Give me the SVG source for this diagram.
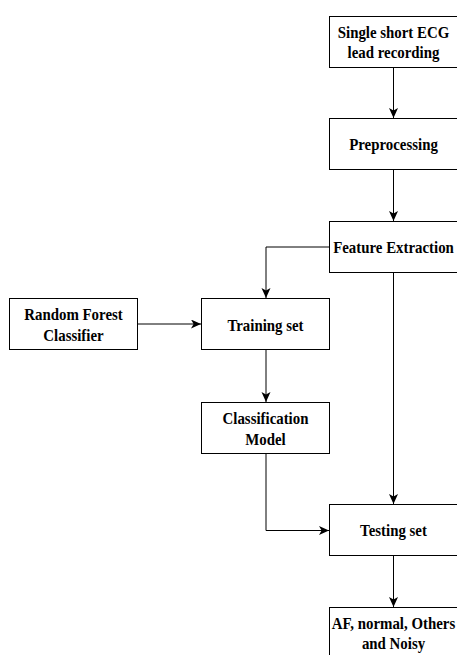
<svg xmlns="http://www.w3.org/2000/svg" width="457" height="655" viewBox="0 0 457 655">
  <style>
    .box { fill: #ffffff; stroke: #000000; stroke-width: 1; }
    .lbl { font-family: "Liberation Serif", "Times New Roman", serif; font-weight: bold; font-size: 17.5px; fill: #000000; text-anchor: middle; }
    .edge { fill: none; stroke: #000000; stroke-width: 1; }
  </style>
  <defs>
    <marker id="arrow" markerUnits="userSpaceOnUse" markerWidth="11" markerHeight="10" refX="10" refY="4.5" orient="auto">
      <path d="M0,0 L10,4.5 L0,9 L2.6,4.5 Z" fill="#000000"/>
    </marker>
  </defs>

  <rect width="457" height="655" fill="#ffffff"/>

  <!-- connectors -->
  <g id="connectors">
    <path class="edge" d="M393.5,67.5 V118" marker-end="url(#arrow)"/>
    <path class="edge" d="M393.5,169.5 V221" marker-end="url(#arrow)"/>
    <path class="edge" d="M329.5,247 H266 V298" marker-end="url(#arrow)"/>
    <path class="edge" d="M137.5,324 H201" marker-end="url(#arrow)"/>
    <path class="edge" d="M266,349.5 V402" marker-end="url(#arrow)"/>
    <path class="edge" d="M393.5,272.5 V504" marker-end="url(#arrow)"/>
    <path class="edge" d="M266,453.5 V530.5 H329" marker-end="url(#arrow)"/>
    <path class="edge" d="M393.5,555.5 V607" marker-end="url(#arrow)"/>
  </g>

  <!-- nodes -->
  <g id="ecg-recording">
    <rect class="box" x="329.5" y="16.5" width="128" height="51"/>
    <text class="lbl" transform="translate(393.5,37.5) scale(0.85,1)">Single short ECG</text>
    <text class="lbl" transform="translate(393.5,58) scale(0.85,1)">lead recording</text>
  </g>

  <g id="preprocessing">
    <rect class="box" x="329.5" y="118.5" width="128" height="51"/>
    <text class="lbl" transform="translate(393.5,150) scale(0.85,1)">Preprocessing</text>
  </g>

  <g id="feature-extraction">
    <rect class="box" x="329.5" y="221.5" width="128" height="51"/>
    <text class="lbl" transform="translate(393.5,253) scale(0.85,1)">Feature Extraction</text>
  </g>

  <g id="random-forest">
    <rect class="box" x="9.5" y="298.5" width="128" height="51"/>
    <text class="lbl" transform="translate(73.5,320) scale(0.85,1)">Random Forest</text>
    <text class="lbl" transform="translate(73.5,340.5) scale(0.85,1)">Classifier</text>
  </g>

  <g id="training-set">
    <rect class="box" x="201.5" y="298.5" width="128" height="51"/>
    <text class="lbl" transform="translate(265.5,330.5) scale(0.85,1)">Training set</text>
  </g>

  <g id="classification-model">
    <rect class="box" x="201.5" y="402.5" width="128" height="51"/>
    <text class="lbl" transform="translate(265.5,424) scale(0.85,1)">Classification</text>
    <text class="lbl" transform="translate(265.5,444.5) scale(0.85,1)">Model</text>
  </g>

  <g id="testing-set">
    <rect class="box" x="329.5" y="504.5" width="128" height="51"/>
    <text class="lbl" transform="translate(393.5,536) scale(0.85,1)">Testing set</text>
  </g>

  <g id="output-classes">
    <rect class="box" x="329.5" y="607.5" width="128" height="51"/>
    <text class="lbl" transform="translate(393.5,628.5) scale(0.85,1)">AF, normal, Others</text>
    <text class="lbl" transform="translate(393.5,649) scale(0.85,1)">and Noisy</text>
  </g>
</svg>
